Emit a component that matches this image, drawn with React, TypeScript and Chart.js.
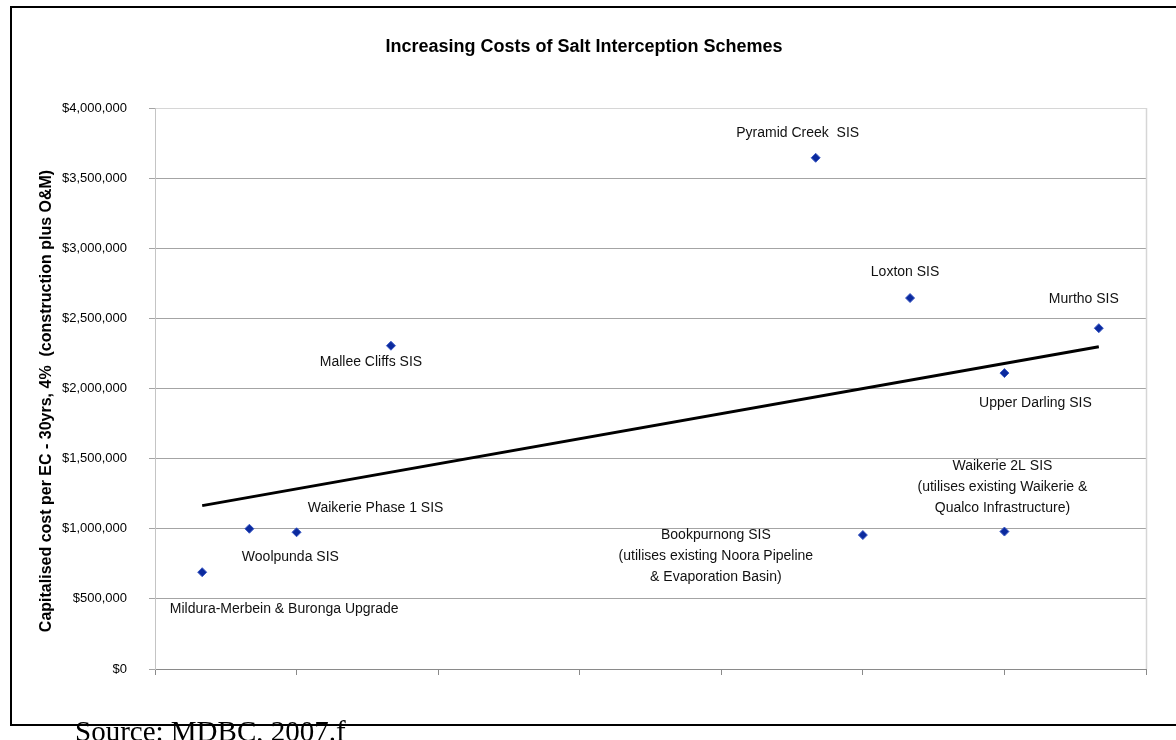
import React, { useEffect, useRef } from "react";
import { Chart, registerables } from "chart.js";

Chart.register(...registerables);

// ---- data ----
const schemeNames: string[] = [
  "Mildura-Merbein & Buronga Upgrade",
  "Woolpunda SIS",
  "Waikerie Phase 1 SIS",
  "Mallee Cliffs SIS",
  "Pyramid Creek  SIS",
  "Bookpurnong SIS\n(utilises existing Noora Pipeline\n& Evaporation Basin)",
  "Loxton SIS",
  "Upper Darling SIS",
  "Waikerie 2L SIS\n(utilises existing Waikerie &\nQualco Infrastructure)",
  "Murtho SIS",
];
const schemeX: number[] = [1, 2, 3, 5, 14, 15, 16, 18, 18, 20];
const schemeCost: number[] = [
  690000, 1000000, 975000, 2305000, 3645000, 955000, 2645000, 2110000, 980000, 2430000,
];
const trendX: number[] = [1, 20];
const trendCost: number[] = [1165000, 2298000];
const chartTitle = "Increasing Costs of Salt Interception Schemes";
const yAxisTitle = "Capitalised cost per EC - 30yrs, 4%  (construction plus O&M)";
const sourceNote = "Source: MDBC, 2007.f";

// label placement relative to each point (pixels): [dx, dy of first line centre]
const labelOffsets: [number, number][] = [
  [82, 37],
  [41, 28],
  [79, -24],
  [-20, 16],
  [-18, -25],
  [-147, 0],
  [-5, -26],
  [31, 30],
  [-2, -65],
  [-15, -29],
];

const SANS = "'Liberation Sans', Arial, sans-serif";

function fmtMoney(v: number): string {
  return "$" + String(Math.round(v)).replace(/\B(?=(\d{3})+(?!\d))/g, ",");
}

const labelPlugin = {
  id: "schemeLabels",
  afterDatasetsDraw(chart: any) {
    const meta = chart.getDatasetMeta(0);
    const ctx = chart.ctx;
    ctx.save();
    ctx.font = `14px ${SANS}`;
    ctx.fillStyle = "#111";
    ctx.textAlign = "center";
    ctx.textBaseline = "middle";
    meta.data.forEach((el: any, i: number) => {
      const lines = schemeNames[i].split("\n");
      const [dx, dy] = labelOffsets[i];
      lines.forEach((ln, j) => {
        ctx.fillText(ln, el.x + dx, el.y + dy + j * 21);
      });
    });
    ctx.restore();
  },
};

const axisTitlePlugin = {
  id: "yAxisTitle",
  afterDraw(chart: any) {
    const { ctx, chartArea } = chart;
    ctx.save();
    ctx.translate(47, (chartArea.top + chartArea.bottom) / 2 + 12.5);
    ctx.rotate(-Math.PI / 2);
    ctx.font = `bold 16px ${SANS}`;
    ctx.fillStyle = "#000";
    ctx.textAlign = "center";
    ctx.textBaseline = "middle";
    ctx.fillText(yAxisTitle, 0, 0);
    ctx.restore();
  },
};

const plotBorderPlugin = {
  id: "plotBorder",
  beforeDatasetsDraw(chart: any) {
    const { ctx, chartArea } = chart;
    ctx.save();
    ctx.strokeStyle = "#d6d6d6";
    ctx.lineWidth = 1.5;
    ctx.beginPath();
    ctx.moveTo(chartArea.right + 0.5, chartArea.top);
    ctx.lineTo(chartArea.right + 0.5, chartArea.bottom);
    ctx.stroke();
    ctx.restore();
  },
};

export default function App() {
  const ref = useRef<HTMLCanvasElement | null>(null);

  useEffect(() => {
    if (!ref.current) return;
    const chart = new Chart(ref.current, {
      type: "scatter",
      data: {
        datasets: [
          {
            label: "Schemes",
            data: schemeX.map((x, i) => ({ x, y: schemeCost[i] })),
            pointStyle: "rectRot",
            pointRadius: 4.5,
            backgroundColor: "#0b2a9e",
            borderColor: "#3a58c4",
            borderWidth: 1,
          },
          {
            label: "Trend",
            data: trendX.map((x, i) => ({ x, y: trendCost[i] })),
            showLine: true,
            borderColor: "#000",
            borderWidth: 3,
            pointRadius: 0,
          },
        ],
      },
      options: {
        animation: false,
        responsive: false,
        layout: { padding: { left: 22, right: 30, top: 0, bottom: 0 } },
        plugins: {
          legend: { display: false },
          tooltip: { enabled: false },
          title: {
            display: true,
            text: chartTitle,
            color: "#000",
            font: { family: SANS, size: 18, weight: "bold" },
            padding: { top: 36, bottom: 50.4 },
          },
        },
        scales: {
          x: {
            type: "linear",
            min: 0,
            max: 21,
            ticks: { stepSize: 3, display: false },
            grid: {
              drawOnChartArea: false,
              tickLength: 6,
              color: "#8a8a8a",
            },
            border: { color: "#8a8a8a", width: 1 },
            afterFit: (s: any) => {
              s.height = 71;
            },
          },
          y: {
            min: 0,
            max: 4000000,
            ticks: {
              stepSize: 500000,
              padding: 22,
              color: "#000",
              font: { family: SANS, size: 13 },
              callback: (v: any) => fmtMoney(Number(v)),
            },
            grid: {
              tickLength: 6,
              color: (c: any) => (c.tick && c.tick.value === 4000000 ? "#d6d6d6" : "#a4a4a4"),
              tickColor: "#a4a4a4",
            },
            border: { color: "#c4c4c4", width: 1 },
            afterFit: (s: any) => {
              s.width = 133;
            },
          },
        },
      },
      plugins: [labelPlugin, plotBorderPlugin, axisTitlePlugin],
    } as any);
    return () => chart.destroy();
  }, []);

  return (
    <div
      style={{
        position: "fixed",
        left: 0,
        top: 0,
        width: 1176,
        height: 740,
        overflow: "hidden",
        background: "#fff",
      }}
    >
      <canvas
        ref={ref}
        width={1176}
        height={740}
        style={{ position: "absolute", left: 0, top: 0, width: 1176, height: 740 }}
      />
      <div
        style={{
          position: "absolute",
          left: 75,
          top: 717,
          fontFamily: "'Liberation Serif', 'Times New Roman', serif",
          fontSize: 29,
          lineHeight: "29px",
          color: "#000",
          whiteSpace: "nowrap",
        }}
      >
        {sourceNote}
      </div>
      <div
        style={{
          position: "absolute",
          left: 10,
          top: 6,
          width: 1200,
          height: 716,
          border: "2px solid #000",
          pointerEvents: "none",
        }}
      />
    </div>
  );
}
